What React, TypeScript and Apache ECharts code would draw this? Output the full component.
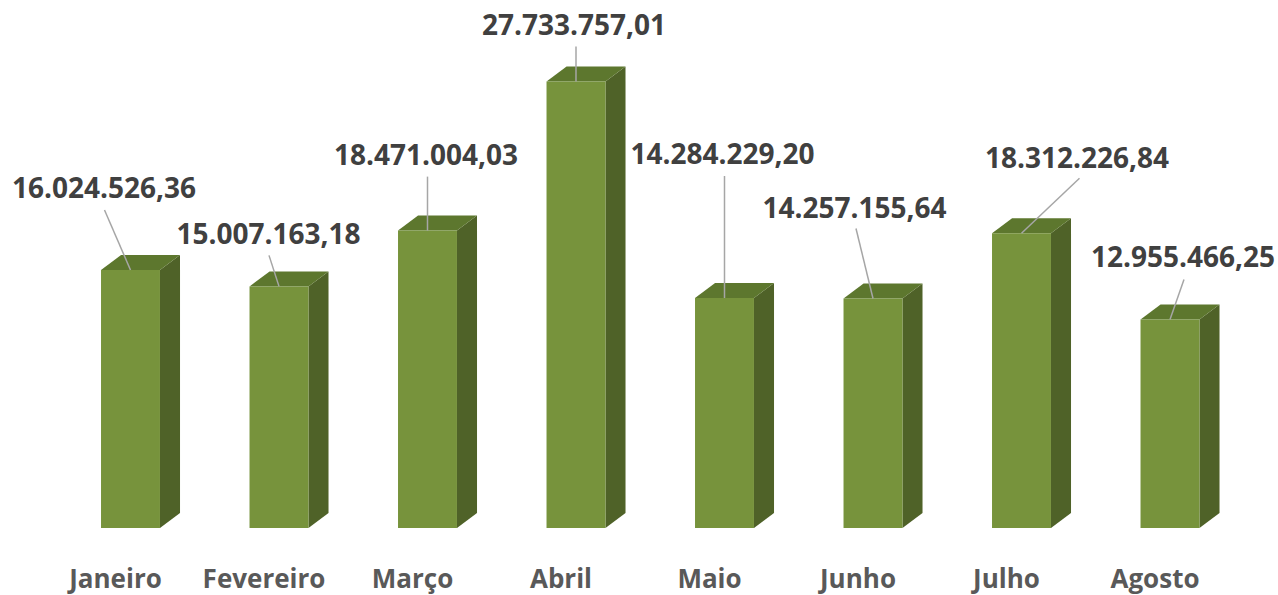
import React, { useEffect, useRef } from "react";
import * as echarts from "echarts";

const categories = ["Janeiro", "Fevereiro", "Março", "Abril", "Maio", "Junho", "Julho", "Agosto"];
const values = [16024526.36, 15007163.18, 18471004.03, 27733757.01, 14284229.2, 14257155.64, 18312226.84, 12955466.25];
const yMax = 30000000;

// label placement (pixel offsets from the bar's front-top centre), as in the original
const labelOffsets: [number, number][] = [
  [-26.5, -83], [-10.5, -53], [-1.5, -77], [-2, -57], [-2, -145], [-18.5, -91], [55.5, -76], [13, -63],
];
const leaderTops: [number, number][] = [
  [-26, -60], [-10, -31], [0, -54], [0, -35], [0, -122], [-17, -70], [58, -55], [14, -40],
];

function fmt(v: number): string {
  const fixed = v.toFixed(2);
  const [intPart, dec] = fixed.split(".");
  const withDots = intPart.replace(/\B(?=(\d{3})+(?!\d))/g, ".");
  return withDots + "," + dec;
}

const FRONT = "#77933C";
const TOP = "#5D772E";
const SIDE = "#4F6228";

export default function App() {
  const ref = useRef<HTMLDivElement>(null);
  useEffect(() => {
    if (!ref.current) return;
    const chart = echarts.init(ref.current, undefined, { renderer: "svg" });
    const option: any = {
      animation: false,
      backgroundColor: "#ffffff",
      grid: { left: 41.25, right: 48.75, top: 45, bottom: 67, containLabel: false },
      xAxis: {
        type: "category",
        data: categories,
        axisLine: { show: false },
        axisTick: { show: false },
        axisLabel: {
          interval: 0,
          color: "#595959",
          fontFamily: "Open Sans",
          fontWeight: "bold",
          fontSize: 26,
          margin: 50,
          verticalAlign: "middle",
        },
      },
      yAxis: {
        type: "value",
        min: 0,
        max: yMax,
        show: false,
        splitLine: { show: false },
      },
      series: [
        {
          type: "custom",
          data: values.map((v, i) => [i, v]),
          renderItem: (params: any, api: any) => {
            const i = api.value(0);
            const v = api.value(1);
            const top = api.coord([i, v]);
            const base = api.coord([i, 0]);
            const band = api.size([1, 0])[0];
            const w = band * 0.397;
            const shift = band * 0.101;
            const dx = band * 0.135;
            const dy = 15;
            const cx = top[0] + shift;
            const x0 = cx - w / 2;
            const x1 = cx + w / 2;
            const yt = top[1];
            const yb = base[1];
            const lo = labelOffsets[i];
            const lt = leaderTops[i];
            return {
              type: "group",
              children: [
                {
                  type: "polygon",
                  shape: { points: [[x1, yt], [x1 + dx, yt - dy], [x1 + dx, yb - dy], [x1, yb]] },
                  style: { fill: SIDE },
                },
                {
                  type: "polygon",
                  shape: { points: [[x0, yt], [x0 + dx, yt - dy], [x1 + dx, yt - dy], [x1, yt]] },
                  style: { fill: TOP },
                },
                {
                  type: "rect",
                  shape: { x: x0, y: yt, width: w, height: yb - yt },
                  style: { fill: FRONT },
                },
                {
                  type: "line",
                  shape: { x1: cx + lt[0], y1: yt + lt[1], x2: cx, y2: yt },
                  style: { stroke: "#A6A6A6", lineWidth: 1.5 },
                },
                {
                  type: "text",
                  style: {
                    text: fmt(v),
                    x: cx + lo[0],
                    y: yt + lo[1],
                    align: "center",
                    verticalAlign: "middle",
                    fontFamily: "Open Sans",
                    fontWeight: "bold",
                    fontSize: 28,
                    fill: "#404040",
                  },
                },
              ],
            };
          },
        },
      ],
    };
    chart.setOption(option);
    return () => chart.dispose();
  }, []);
  return (
    <div
      ref={ref}
      style={{ position: "fixed", left: 0, top: 0, width: 1278, height: 595, background: "#fff" }}
    />
  );
}
